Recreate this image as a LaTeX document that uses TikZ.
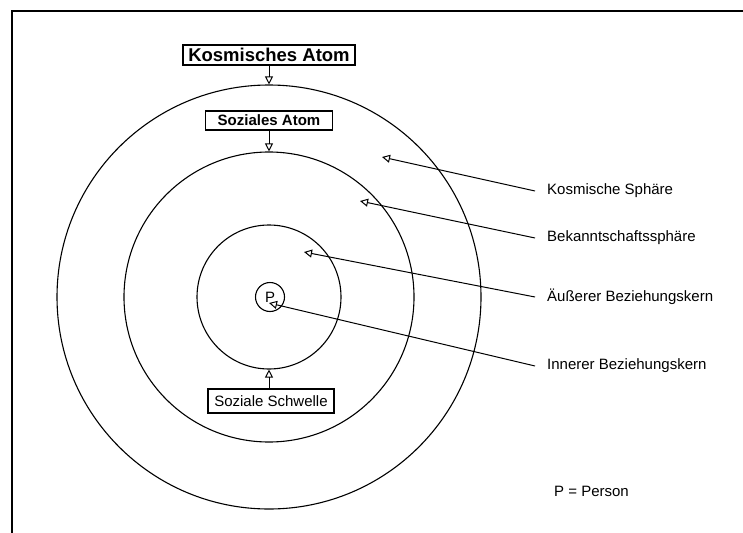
\documentclass[tikz,border=0pt]{standalone}
\usepackage{fontspec}
\setmainfont{Liberation Sans}
\usetikzlibrary{arrows.meta}

\begin{document}
\begin{tikzpicture}[x=1pt,y=-1pt,
  ring/.style={draw, circle, line width=1.1pt, inner sep=0pt},
  labelbox/.style={draw, line width=1.2pt, inner sep=0pt, align=center},
  pointer/.style={line width=1pt, -{Triangle[open, length=8pt, width=8pt, line width=1pt]}},
  caption/.style={anchor=west, font=\fontsize{15}{18}\selectfont, inner sep=0pt}
]
\useasboundingbox (0,0) rectangle (743,532);
% frame
\draw[line width=2pt] (12,540) -- (12,11) -- (750,11);

% concentric spheres
\coordinate (c) at (269,297);
\node[ring, minimum size=424pt] (outer) at (c) {};
\node[ring, minimum size=290pt] (middle) at (c) {};
\node[ring, minimum size=144pt] (inner) at (c) {};
\node[ring, minimum size=29pt, font=\fontsize{15}{18}\selectfont] (p) at (270,297) {P};

% boxed labels
\node[labelbox, minimum width=172pt, minimum height=20pt,
      font=\bfseries\fontsize{18.5}{20}\selectfont] (katom) at (269,55) {Kosmisches Atom};
\node[labelbox, minimum width=127pt, minimum height=19pt,
      font=\bfseries\fontsize{15}{18}\selectfont] (satom) at (269,120.5) {Soziales Atom};
\node[labelbox, minimum width=126pt, minimum height=24pt,
      font=\fontsize{15}{18}\selectfont] (schwelle) at (271,401) {Soziale Schwelle};

\draw[pointer] (katom.south) -- (outer.north);
\draw[pointer] (satom.south) -- (middle.north);
\draw[pointer] (schwelle.north -| inner.south) -- (inner.south);

% sphere captions
\node[caption] (ks) at (547,191) {Kosmische Sphäre};
\node[caption] (bs) at (547,238) {Bekanntschaftssphäre};
\node[caption] (ab) at (547,297) {Äußerer Beziehungskern};
\node[caption] (ib) at (547,366) {Innerer Beziehungskern};
\node[caption] (legend) at (554,491) {P = Person};

\coordinate (tks) at (382,157);
\coordinate (tbs) at (360,201);
\coordinate (tab) at (304,252);
\coordinate (tib) at (269,303);

\draw[pointer] ([xshift=-12pt]ks.west) -- (tks);
\draw[pointer] ([xshift=-12pt]bs.west) -- (tbs);
\draw[pointer] ([xshift=-12pt]ab.west) -- (tab);
\draw[pointer] ([xshift=-12pt]ib.west) -- (tib);
\end{tikzpicture}
\end{document}
